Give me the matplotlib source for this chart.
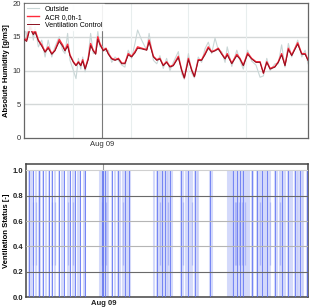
import matplotlib
matplotlib.use("Agg")
import matplotlib.pyplot as plt
import matplotlib.dates as mdates
from datetime import datetime, timedelta

plt.rcParams['font.family'] = ['Liberation Sans', 'DejaVu Sans']

start = datetime(2016, 8, 7, 15, 30)
end_hours = 118.5

hours = [0, 1.1, 2.5, 3.9, 4.6, 6.0, 7.4, 8.8, 10.1, 11.6, 12.9, 14.7, 16.1, 17.1, 18.2,
         19.2, 20.6, 21.7, 22.7, 23.7, 24.5, 25.5, 26.8, 27.8, 28.9, 29.9, 30.8, 31.7, 33.1,
         34.2, 35.2, 36.6, 38.0, 39.4, 40.8, 42.1, 43.5, 44.9, 46.3, 47.4, 49.1, 51.2, 52.2,
         54.0, 55.4, 56.7, 58.1, 59.5, 60.9, 62.3, 64.4, 65.8, 66.9, 68.6, 70.0, 71.1, 72.7,
         74.1, 75.5, 76.9, 78.3, 79.7, 81.1, 82.5, 83.9, 84.8, 86.7, 88.8, 90.1, 91.5, 93.3,
         95.0, 96.8, 98.5, 99.9, 101.3, 102.7, 104.7, 106.1, 107.5, 108.9, 110.3, 111.7, 114.2,
         115.9, 117.3, 118.5]

acr = [14.8, 14.5, 16.5, 15.5, 16.0, 14.5, 13.8, 12.8, 13.5, 12.5, 13.0, 14.6, 13.8, 13.0, 13.9,
       12.3, 11.3, 10.8, 11.3, 10.8, 11.6, 10.3, 11.8, 14.0, 13.0, 12.5, 15.0, 14.0, 13.0,
       13.3, 12.5, 11.8, 11.6, 11.8, 11.1, 11.1, 12.5, 12.1, 12.8, 13.5, 13.3, 13.1, 14.5,
       12.1, 11.6, 11.8, 10.8, 11.3, 10.6, 10.8, 12.1, 10.1, 8.9, 11.8, 10.1, 9.1, 11.6,
       11.6, 12.5, 13.5, 12.8, 13.0, 13.3, 12.5, 11.8, 12.5, 11.1, 12.4, 11.8, 10.8, 12.6,
       11.8, 11.3, 11.3, 9.6, 11.3, 10.3, 10.6, 11.3, 12.5, 10.8, 13.3, 12.3, 14.1,
       12.5, 12.5, 11.6]

vent_ctrl = [14.6, 14.3, 16.2, 15.3, 15.7, 14.4, 13.6, 12.7, 13.3, 12.4, 12.9, 14.3, 13.6, 12.9, 13.6,
             12.2, 11.2, 10.7, 11.2, 10.7, 11.4, 10.2, 11.6, 13.7, 12.9, 12.4, 14.6, 13.8, 12.9,
             13.2, 12.4, 11.7, 11.5, 11.7, 11.0, 11.0, 12.3, 12.0, 12.6, 13.3, 13.2, 13.0, 14.2,
             12.0, 11.5, 11.7, 10.7, 11.2, 10.5, 10.7, 11.9, 10.0, 8.9, 11.6, 10.0, 9.1, 11.5,
             11.5, 12.3, 13.3, 12.7, 12.9, 13.2, 12.4, 11.7, 12.3, 11.0, 12.2, 11.7, 10.7, 12.4,
             11.7, 11.2, 11.2, 9.6, 11.2, 10.2, 10.5, 11.2, 12.3, 10.7, 13.1, 12.2, 13.9,
             12.4, 12.4, 11.5]

outside = [17.5, 15.0, 18.0, 14.5, 16.5, 13.5, 14.5, 12.0, 14.5, 12.0, 13.5, 15.0, 13.0, 12.5, 15.5,
           11.5, 10.0, 8.8, 11.8, 10.2, 12.0, 9.8, 12.0, 15.5, 12.5, 13.0, 15.8, 13.5, 13.5,
           12.8, 13.0, 11.2, 12.0, 11.5, 10.8, 10.5, 13.0, 11.8, 14.0, 16.0, 14.5, 13.0, 15.5,
           11.5, 11.0, 12.2, 10.3, 11.8, 10.0, 11.2, 12.8, 9.5, 8.7, 12.5, 9.6, 8.9, 12.0,
           11.2, 13.2, 14.2, 12.5, 14.8, 13.0, 12.8, 11.2, 13.5, 10.6, 13.0, 11.5, 10.2, 13.0,
           11.4, 10.8, 9.0, 9.2, 11.8, 10.0, 11.0, 11.0, 13.8, 10.5, 14.0, 12.0, 14.5,
           12.0, 13.0, 11.0]

vent_on = [1.1, 2.0, 3.1, 4.2, 5.3, 5.9, 7.0, 8.4, 9.5, 10.9, 12.3, 14.0, 15.0, 16.1, 17.5, 18.5,
           19.6, 20.7, 21.7, 22.7, 24.5, 24.9, 31.1, 31.8, 32.5, 33.2, 33.9, 34.6, 36.0, 37.4,
           38.8, 39.5, 40.9, 41.6, 42.3, 43.3, 43.7, 53.9, 54.9, 55.6, 56.3, 57.0, 57.7, 58.4,
           59.1, 59.8, 60.5, 61.2, 65.1, 66.1, 67.1, 68.2, 68.9, 69.9, 71.0, 71.7, 72.4, 77.3,
           78.0, 85.0, 85.7, 86.4, 86.9, 87.8, 88.5, 89.2, 89.9, 90.6, 91.3, 92.0, 92.7, 93.8,
           94.8, 95.5, 96.9, 97.6, 98.3, 99.0, 99.7, 100.4, 101.1, 101.8, 102.5, 104.6, 105.3,
           106.7, 107.4, 108.1, 108.8, 110.2, 110.9, 111.6, 113.0, 113.7, 114.4, 115.1, 115.8,
           116.5, 117.9]
vent_strong = [1.1, 3.1, 5.3, 7.0, 9.5, 10.9, 14.0, 16.1, 18.5, 20.7, 22.7, 24.9, 31.8, 32.5,
               33.2, 36.0, 38.8, 41.6, 43.3, 54.9, 57.0, 58.4, 60.5, 65.1, 68.2, 71.0, 77.3,
               86.9, 88.5, 89.9, 91.3, 94.8, 96.9, 99.0, 101.1, 104.6, 107.4, 110.2, 113.0,
               115.1, 117.9]
vent_mid = [3.1, 4.2, 10.9, 12.3, 17.5, 19.6, 32.0, 33.5, 40.9, 56.3, 59.8, 66.1, 69.9,
            87.8, 88.2, 89.5, 90.6, 92.0, 98.3, 102.5, 106.7]

series_labels = ["Outside", "ACR 0,0h-1", "Ventilation Control"]


def to_dt(hs):
    return [start + timedelta(hours=h) for h in hs]


t = to_dt(hours)
x0, x1 = start, start + timedelta(hours=end_hours)
aug09 = datetime(2016, 8, 9)
noons = [datetime(2016, 8, d, 12) for d in (8, 9, 10, 11)]

fig = plt.figure(figsize=(3.12, 3.08), dpi=100)
ax1 = fig.add_axes([24/312, 1-138/308, 284/312, 135/308])
ax2 = fig.add_axes([26/312, 1-297/308, 282/312, 133/308])

# ---- top
ax1.set_ylim(0, 20)
ax1.set_xlim(x0, x1)
for v in [5, 10, 15]:
    ax1.axhline(v, color='#d4d8d8', lw=1.0, zorder=0)
for n in noons:
    ax1.axvline(n, color='#e8eeee', lw=0.8, zorder=0)
ax1.axvline(aug09, color='#7a7a7a', lw=0.8, zorder=0.5)
ax1.plot(t, outside, color='#c9d6d6', lw=0.8, label=series_labels[0], zorder=1)
ax1.plot(t, acr, color='#ff2a3a', lw=1.0, label=series_labels[1], zorder=2)
ax1.plot(t, vent_ctrl, color='#8c1020', lw=0.7, label=series_labels[2], zorder=3)
ax1.set_yticks([0, 5, 10, 15, 20])
ax1.set_xticks([aug09])
ax1.xaxis.set_major_formatter(mdates.DateFormatter('%b %d'))
ax1.tick_params(labelsize=5.5, length=0, pad=2, colors='#333333')
ax1.set_ylabel('Absolute Humidity [g/m3]', fontsize=5.5, fontweight='bold', labelpad=2)
for s in ax1.spines.values():
    s.set_color('#666666')
    s.set_linewidth(0.9)
leg = ax1.legend(loc='upper left', fontsize=5, frameon=True, handlelength=1.8,
                 borderpad=0.2, labelspacing=0.15, handletextpad=0.8,
                 borderaxespad=0.2, fancybox=False)
leg.get_frame().set_edgecolor('white')
leg.get_frame().set_alpha(0.9)

# ---- bottom
ax2.set_ylim(0, 1.05)
ax2.set_xlim(x0, x1)
ax2.axvline(aug09, color='#999999', lw=0.8, zorder=0)
ax2.vlines(to_dt(vent_on), 0, 1, color='#c3cbfa', lw=1.5, alpha=0.7, zorder=1)
ax2.vlines(to_dt(vent_mid), 0.25, 0.75, color='#97a3f6', lw=0.9, alpha=0.6, zorder=2)
ax2.vlines(to_dt(vent_strong), 0, 1, color='#5d70f2', lw=0.7, alpha=0.8, zorder=3)
for v, c in [(0.2, '#6a6a6a'), (0.4, '#b5b5b5'), (0.6, '#b5b5b5'), (0.8, '#6a6a6a'), (1.0, '#d0d0d0')]:
    ax2.axhline(v, color=c, lw=0.8, zorder=4)
ax2.set_yticks([0.0, 0.2, 0.4, 0.6, 0.8, 1.0])
ax2.set_yticklabels(['0.0', '0.2', '0.4', '0.6', '0.8', '1.0'])
ax2.set_xticks([aug09])
ax2.xaxis.set_major_formatter(mdates.DateFormatter('%b %d'))
ax2.tick_params(labelsize=5.5, length=0, pad=2, colors='#222222')
for lab in ax2.get_xticklabels() + ax2.get_yticklabels():
    lab.set_fontweight('bold')
ax2.set_ylabel('Ventilation Status [-]', fontsize=5.5, fontweight='bold', labelpad=2)
for s in ax2.spines.values():
    s.set_color('#444444')
    s.set_linewidth(1.1)

fig.savefig('out.png', dpi=100)
